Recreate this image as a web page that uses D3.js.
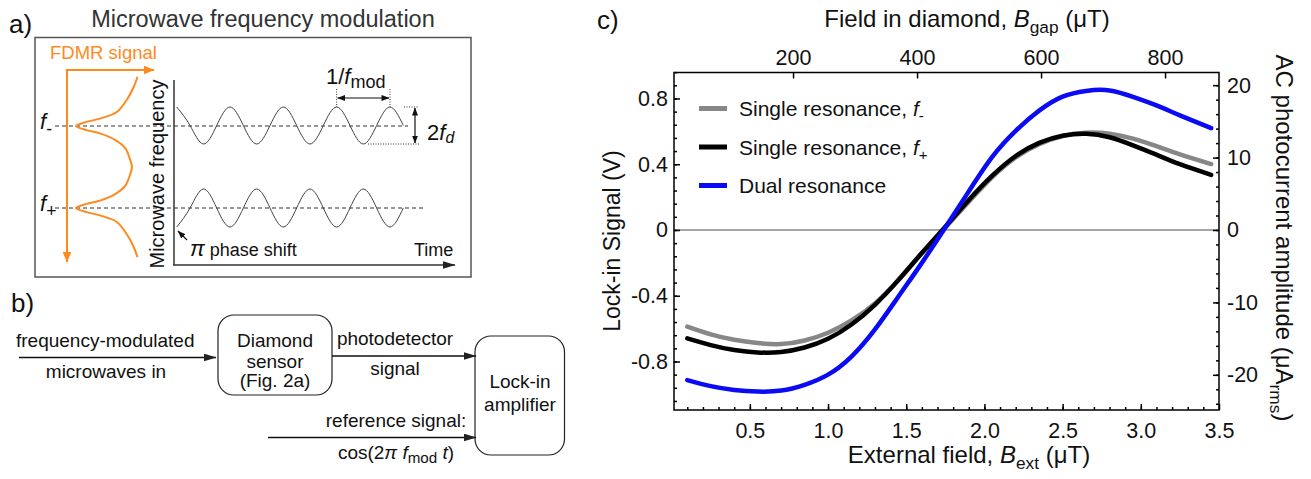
<!DOCTYPE html>
<html>
<head>
<meta charset="utf-8">
<script src="https://cdn.jsdelivr.net/npm/d3@7"></script>
<style>
  body { margin: 0; background: #fff; }
  svg { display: block; font-family: "Liberation Sans", Arial, sans-serif; }
</style>
</head>
<body>
<div id="container"></div>
<script>
/* DATA */
// panel c: lock-in signal (V) vs external field B_ext (uT)
const bExt = [0.1, 0.25, 0.4, 0.55, 0.7, 0.85, 1.0, 1.15, 1.3, 1.45, 1.6, 1.75,
  1.9, 2.05, 2.2, 2.35, 2.5, 2.65, 2.8, 2.95, 3.1, 3.25, 3.45];
const lockinFminus = [-0.588, -0.635, -0.668, -0.688, -0.694, -0.672, -0.625, -0.550,
  -0.447, -0.303, -0.140, 0.015, 0.172, 0.322, 0.442, 0.522, 0.572, 0.592, 0.586,
  0.556, 0.510, 0.460, 0.401];
const lockinFplus = [-0.659, -0.700, -0.730, -0.745, -0.742, -0.715, -0.662, -0.575,
  -0.455, -0.305, -0.140, 0.020, 0.182, 0.330, 0.450, 0.530, 0.573, 0.585, 0.564,
  0.515, 0.458, 0.400, 0.335];
const lockinDual = [-0.913, -0.950, -0.973, -0.983, -0.977, -0.942, -0.880, -0.770,
  -0.605, -0.405, -0.200, 0.015, 0.235, 0.445, 0.603, 0.726, 0.811, 0.846, 0.849,
  0.810, 0.758, 0.697, 0.620];
const seriesColors = ["#878787", "#000000", "#0a0af5"];

const xTicks = [0.5, 1.0, 1.5, 2.0, 2.5, 3.0, 3.5];
const yTicks = [-0.8, -0.4, 0, 0.4, 0.8];
const topTicks = [200, 400, 600, 800];
const rightTicks = [-20, -10, 0, 10, 20];

// panel a: schematic modulation (quarter-period samples) and FDMR dips
const waveTopPhase = [1, 0, -1, 0, 1, 0, -1, 0, 1, 0, -1, 0, 1, 0, -1, 0, 1, 0];
const waveBottomPhase = [-1, 0, 1, 0, -1, 0, 1, 0, -1, 0, 1, 0, -1, 0, 1, 0, -1, 0];
const fdmrFreq = [-0.6, -0.47, -0.32, -0.17, -0.09, -0.05, 0, 0.05, 0.09, 0.17, 0.27, 0.41,
  0.5, 0.59, 0.73, 0.83, 0.91, 0.95, 1, 1.05, 1.09, 1.17, 1.32, 1.47, 1.6];
const fdmrSignal = [1.0, 0.935, 0.826, 0.663, 0.39, 0.173, 0, 0.173, 0.39, 0.635, 0.8, 0.88,
  0.91, 0.88, 0.8, 0.635, 0.39, 0.173, 0, 0.173, 0.39, 0.663, 0.826, 0.935, 1.0];

/* CONSTANTS AND GLOBALS */
const width = 1311, height = 479;
const orange = "#ff8a1c";

const svg = d3.select("#container")
  .append("svg")
  .attr("width", width)
  .attr("height", height);

// arrow heads
const defs = svg.append("defs");
function marker(id, color, len, wid) {
  defs.append("marker")
    .attr("id", id)
    .attr("viewBox", `0 0 ${len} ${wid}`)
    .attr("refX", len - 0.5).attr("refY", wid / 2)
    .attr("markerWidth", len).attr("markerHeight", wid)
    .attr("markerUnits", "userSpaceOnUse")
    .attr("orient", "auto-start-reverse")
    .append("path")
    .attr("d", `M0,0L${len},${wid / 2}L0,${wid}Z`)
    .attr("fill", color);
}
marker("arrOrange", orange, 11, 9);
marker("arrBig", "#222", 13, 8);
marker("arrSmall", "#111", 8, 6);

// text with italic / subscript pieces
function rich(g, x, y, parts, size, opts = {}) {
  const t = g.append("text")
    .attr("x", x).attr("y", y)
    .attr("font-size", size)
    .attr("text-anchor", opts.anchor || "start")
    .attr("fill", opts.fill || "#111");
  if (opts.rotate) t.attr("transform", `rotate(${opts.rotate},${x},${y})`);
  let shift = 0;
  parts.forEach(p => {
    const s = typeof p === "string" ? { t: p } : p;
    const target = s.sub ? size * (s.shift != null ? s.shift : 0.26) : 0;
    const ts = t.append("tspan").text(s.t).attr("dy", target - shift);
    if (s.sub) ts.attr("font-size", size * (s.scale || 0.72));
    if (s.it) ts.attr("font-style", "italic");
    if (s.size) ts.attr("font-size", s.size);
    shift = target;
  });
  return t;
}

/* PANEL A */
const a = svg.append("g");
rich(a, 9, 33, ["a)"], 26);
rich(a, 263, 27, ["Microwave frequency modulation"], 23.5, { anchor: "middle", fill: "#333" });
a.append("rect")
  .attr("x", 35).attr("y", 37.5).attr("width", 436).attr("height", 239.5)
  .attr("fill", "none").attr("stroke", "#555").attr("stroke-width", 1.5);

rich(a, 50, 59, ["FDMR signal"], 18.5, { fill: orange });

// dashed resonance levels
const fy = d3.scaleLinear().domain([0, 1]).range([126, 208]);
const fx = d3.scaleLinear().domain([0, 1]).range([76, 137.5]);
[[0, 408], [1, 423]].forEach(([f, end]) => {
  a.append("line")
    .attr("x1", 55).attr("x2", end).attr("y1", fy(f)).attr("y2", fy(f))
    .attr("stroke", "#333").attr("stroke-width", 1).attr("stroke-dasharray", "4,3");
});

// orange FDMR axes and curve
a.append("line").attr("x1", 67).attr("y1", 69).attr("x2", 67).attr("y2", 262)
  .attr("stroke", orange).attr("stroke-width", 2).attr("marker-end", "url(#arrOrange)");
a.append("line").attr("x1", 66).attr("y1", 70).attr("x2", 154).attr("y2", 70)
  .attr("stroke", orange).attr("stroke-width", 2).attr("marker-end", "url(#arrOrange)");
const fdmrLine = d3.line()
  .x(d => fx(d[1]))
  .y(d => fy(d[0]))
  .curve(d3.curveCatmullRom.alpha(0.5));
a.append("path")
  .attr("d", fdmrLine(d3.zip(fdmrFreq, fdmrSignal)))
  .attr("fill", "none").attr("stroke", orange).attr("stroke-width", 2);

rich(a, 40, 129, [{ t: "f", it: true }, { t: "-", sub: true, scale: 0.8 }], 22);
rich(a, 40, 211, [{ t: "f", it: true }, { t: "+", sub: true, scale: 0.8 }], 22);

// microwave frequency vs time
rich(a, 164, 174, ["Microwave frequency"], 20, { anchor: "middle", rotate: -90 });
a.append("line").attr("x1", 174).attr("y1", 80).attr("x2", 174).attr("y2", 265.5)
  .attr("stroke", "#333").attr("stroke-width", 1.5);
a.append("line").attr("x1", 173.3).attr("y1", 265).attr("x2", 455).attr("y2", 265)
  .attr("stroke", "#333").attr("stroke-width", 1.5).attr("marker-end", "url(#arrBig)");
rich(a, 414, 256, ["Time"], 18);

const wx = d3.scaleLinear().domain([0, 4.25]).range([176.7, 403.3]);
const wyTop = d3.scaleLinear().domain([-1, 1]).range([144, 107]);
const wyBot = d3.scaleLinear().domain([-1, 1]).range([227, 189]);
[[waveTopPhase, wyTop], [waveBottomPhase, wyBot]].forEach(([vals, sy]) => {
  const line = d3.line()
    .x((d, i) => wx(i / 4))
    .y(d => sy(d))
    .curve(d3.curveNatural);
  a.append("path").attr("d", line(vals))
    .attr("fill", "none").attr("stroke", "#444").attr("stroke-width", 1);
});

// 1/f_mod marker
[3, 4].forEach(t => {
  a.append("line").attr("x1", wx(t)).attr("x2", wx(t)).attr("y1", 89).attr("y2", wyTop(1))
    .attr("stroke", "#333").attr("stroke-width", 1).attr("stroke-dasharray", "1,1.5");
});
a.append("line").attr("x1", wx(3) + 1).attr("x2", wx(4) - 1).attr("y1", 98).attr("y2", 98)
  .attr("stroke", "#111").attr("stroke-width", 1.2)
  .attr("marker-start", "url(#arrSmall)").attr("marker-end", "url(#arrSmall)");
rich(a, 326, 84, ["1/", { t: "f", it: true }, { t: "mod", sub: true, scale: 0.82, shift: 0.18 }], 22);

// 2 f_d marker
a.append("line").attr("x1", 404).attr("x2", 419).attr("y1", wyTop(1)).attr("y2", wyTop(1))
  .attr("stroke", "#333").attr("stroke-width", 1).attr("stroke-dasharray", "1,1.5");
a.append("line").attr("x1", 368).attr("x2", 419).attr("y1", wyTop(-1)).attr("y2", wyTop(-1))
  .attr("stroke", "#333").attr("stroke-width", 1).attr("stroke-dasharray", "1,1.5");
a.append("line").attr("x1", 415).attr("x2", 415).attr("y1", wyTop(1) + 1).attr("y2", wyTop(-1) - 1)
  .attr("stroke", "#111").attr("stroke-width", 1.2)
  .attr("marker-start", "url(#arrSmall)").attr("marker-end", "url(#arrSmall)");
rich(a, 427, 140, ["2", { t: "f", it: true }, { t: "d", it: true, sub: true, scale: 0.72, shift: 0.12 }], 22);

// phase shift note
a.append("line").attr("x1", 187).attr("y1", 240).attr("x2", 178).attr("y2", 231)
  .attr("stroke", "#111").attr("stroke-width", 1.3).attr("marker-end", "url(#arrSmall)");
rich(a, 190, 256, [{ t: "π", it: true, size: 22 }, " phase shift"], 18);

/* PANEL B */
const b = svg.append("g");
rich(b, 11, 312, ["b)"], 26);
const fsB = 19;
function arrow(x1, x2, yy) {
  b.append("line").attr("x1", x1).attr("x2", x2).attr("y1", yy).attr("y2", yy)
    .attr("stroke", "#111").attr("stroke-width", 1.5).attr("marker-end", "url(#arrBig)");
}
arrow(19, 216, 357.5);
rich(b, 16, 347, ["frequency-modulated"], fsB);
rich(b, 106, 377.5, ["microwaves in"], fsB, { anchor: "middle" });

b.append("rect").attr("x", 218).attr("y", 315).attr("width", 114).attr("height", 80)
  .attr("rx", 16).attr("fill", "none").attr("stroke", "#222").attr("stroke-width", 1.2);
rich(b, 275, 347, ["Diamond"], fsB, { anchor: "middle" });
rich(b, 275, 368, ["sensor"], fsB, { anchor: "middle" });
rich(b, 275, 387, ["(Fig. 2a)"], fsB, { anchor: "middle" });

arrow(332, 476, 356);
rich(b, 395, 345, ["photodetector"], fsB, { anchor: "middle" });
rich(b, 395, 375, ["signal"], fsB, { anchor: "middle" });

b.append("rect").attr("x", 475).attr("y", 336).attr("width", 89.5).attr("height", 119)
  .attr("rx", 16).attr("fill", "none").attr("stroke", "#222").attr("stroke-width", 1.2);
rich(b, 520, 388, ["Lock-in"], fsB, { anchor: "middle" });
rich(b, 520, 411, ["amplifier"], fsB, { anchor: "middle" });

arrow(268, 476, 437.5);
rich(b, 396, 427, ["reference signal:"], fsB, { anchor: "middle" });
rich(b, 396, 459, ["cos(2", { t: "π", it: true }, " ", { t: "f", it: true },
  { t: "mod", sub: true, scale: 0.8, shift: 0.22 }, " ", { t: "t", it: true }, ")"], fsB, { anchor: "middle" });

/* PANEL C */
const c = svg.append("g");
const plotL = 674, plotR = 1219, plotT = 72.5, plotB = 410;

// SCALES
const xScale = d3.scaleLinear().domain([0.015, 3.5]).range([plotL, plotR]);
const xTopScale = d3.scaleLinear().domain([8, 887]).range([plotL, plotR]);
const yScale = d3.scaleLinear().domain([-1.095, 0.958]).range([plotB, plotT]);
const yRightScale = d3.scaleLinear().domain([-24.86, 21.75]).range([plotB, plotT]);

rich(c, 597, 29, ["c)"], 26);

// zero line
c.append("line")
  .attr("x1", plotL).attr("x2", plotR)
  .attr("y1", yScale(0)).attr("y2", yScale(0))
  .attr("stroke", "#8a8a8a").attr("stroke-width", 1.5);

// DRAW LINES
const lineGen = d3.line()
  .x(d => xScale(d[0]))
  .y(d => yScale(d[1]))
  .curve(d3.curveNatural);
const seriesData = [lockinFminus, lockinFplus, lockinDual].map(s => d3.zip(bExt, s));
c.selectAll(".trend")
  .data(seriesData)
  .join("path")
  .attr("class", "trend")
  .attr("fill", "none")
  .attr("stroke", (d, i) => seriesColors[i])
  .attr("stroke-width", 4.5)
  .attr("stroke-linecap", "round")
  .attr("d", d => lineGen(d));

// AXES
function callAxis(axis, tx, ty, fs) {
  const g = c.append("g")
    .attr("transform", `translate(${tx},${ty})`)
    .call(axis)
    .attr("font-family", null)
    .attr("font-size", fs);
  g.select(".domain").remove();
  g.selectAll("line").attr("stroke", "#000").attr("stroke-width", 1.5);
  g.selectAll("text").attr("fill", "#111");
  return g;
}
const fsTick = 21.5;
callAxis(d3.axisLeft(yScale).tickValues(yTicks).tickSizeInner(-6).tickSizeOuter(0)
  .tickPadding(6).tickFormat(d => String(d)), plotL, 0, fsTick);
callAxis(d3.axisLeft(yScale).tickValues(d3.range(-1.04, 0.97, 0.08)).tickSizeInner(-3)
  .tickSizeOuter(0).tickFormat(""), plotL, 0, fsTick);
callAxis(d3.axisRight(yRightScale).tickValues(rightTicks).tickSizeInner(-6).tickSizeOuter(0)
  .tickPadding(8).tickFormat(d => String(d)), plotR, 0, fsTick);
callAxis(d3.axisRight(yRightScale).tickValues(d3.range(-24, 22, 2)).tickSizeInner(-3)
  .tickSizeOuter(0).tickFormat(""), plotR, 0, fsTick);
callAxis(d3.axisBottom(xScale).tickValues(xTicks).tickSizeInner(-6).tickSizeOuter(0)
  .tickPadding(13).tickFormat(d => d.toFixed(1)), 0, plotB, fsTick);
callAxis(d3.axisBottom(xScale).tickValues(d3.range(0.1, 3.45, 0.1)).tickSizeInner(-3)
  .tickSizeOuter(0).tickFormat(""), 0, plotB, fsTick);
callAxis(d3.axisTop(xTopScale).tickValues(topTicks).tickSizeInner(-6).tickSizeOuter(0)
  .tickPadding(8), 0, plotT, fsTick);

// frame
c.append("rect")
  .attr("x", plotL).attr("y", plotT)
  .attr("width", plotR - plotL).attr("height", plotB - plotT)
  .attr("fill", "none").attr("stroke", "#000").attr("stroke-width", 1.5);

// axis titles
rich(c, 967, 27, ["Field in diamond, ", { t: "B", it: true }, { t: "gap", sub: true }, " (μT)"], 24, { anchor: "middle" });
rich(c, 969, 463, ["External field, ", { t: "B", it: true }, { t: "ext", sub: true }, " (μT)"], 24, { anchor: "middle" });
rich(c, 620, 241, ["Lock-in Signal (V)"], 23, { anchor: "middle", rotate: -90 });
rich(c, 1276, 238, ["AC photocurrent amplitude (μA", { t: "rms", sub: true }, ")"], 24, { anchor: "middle", rotate: 90 });

// legend
const legendLabels = [
  ["Single resonance, ", { t: "f", it: true }, { t: "-", sub: true }],
  ["Single resonance, ", { t: "f", it: true }, { t: "+", sub: true }],
  ["Dual resonance"]
];
legendLabels.forEach((lab, i) => {
  const ly = 108.5 + i * 38.5;
  c.append("line").attr("x1", 699).attr("x2", 727).attr("y1", ly).attr("y2", ly)
    .attr("stroke", seriesColors[i]).attr("stroke-width", 5);
  rich(c, 739, ly + 7.5, lab, 21);
});
</script>
</body>
</html>
